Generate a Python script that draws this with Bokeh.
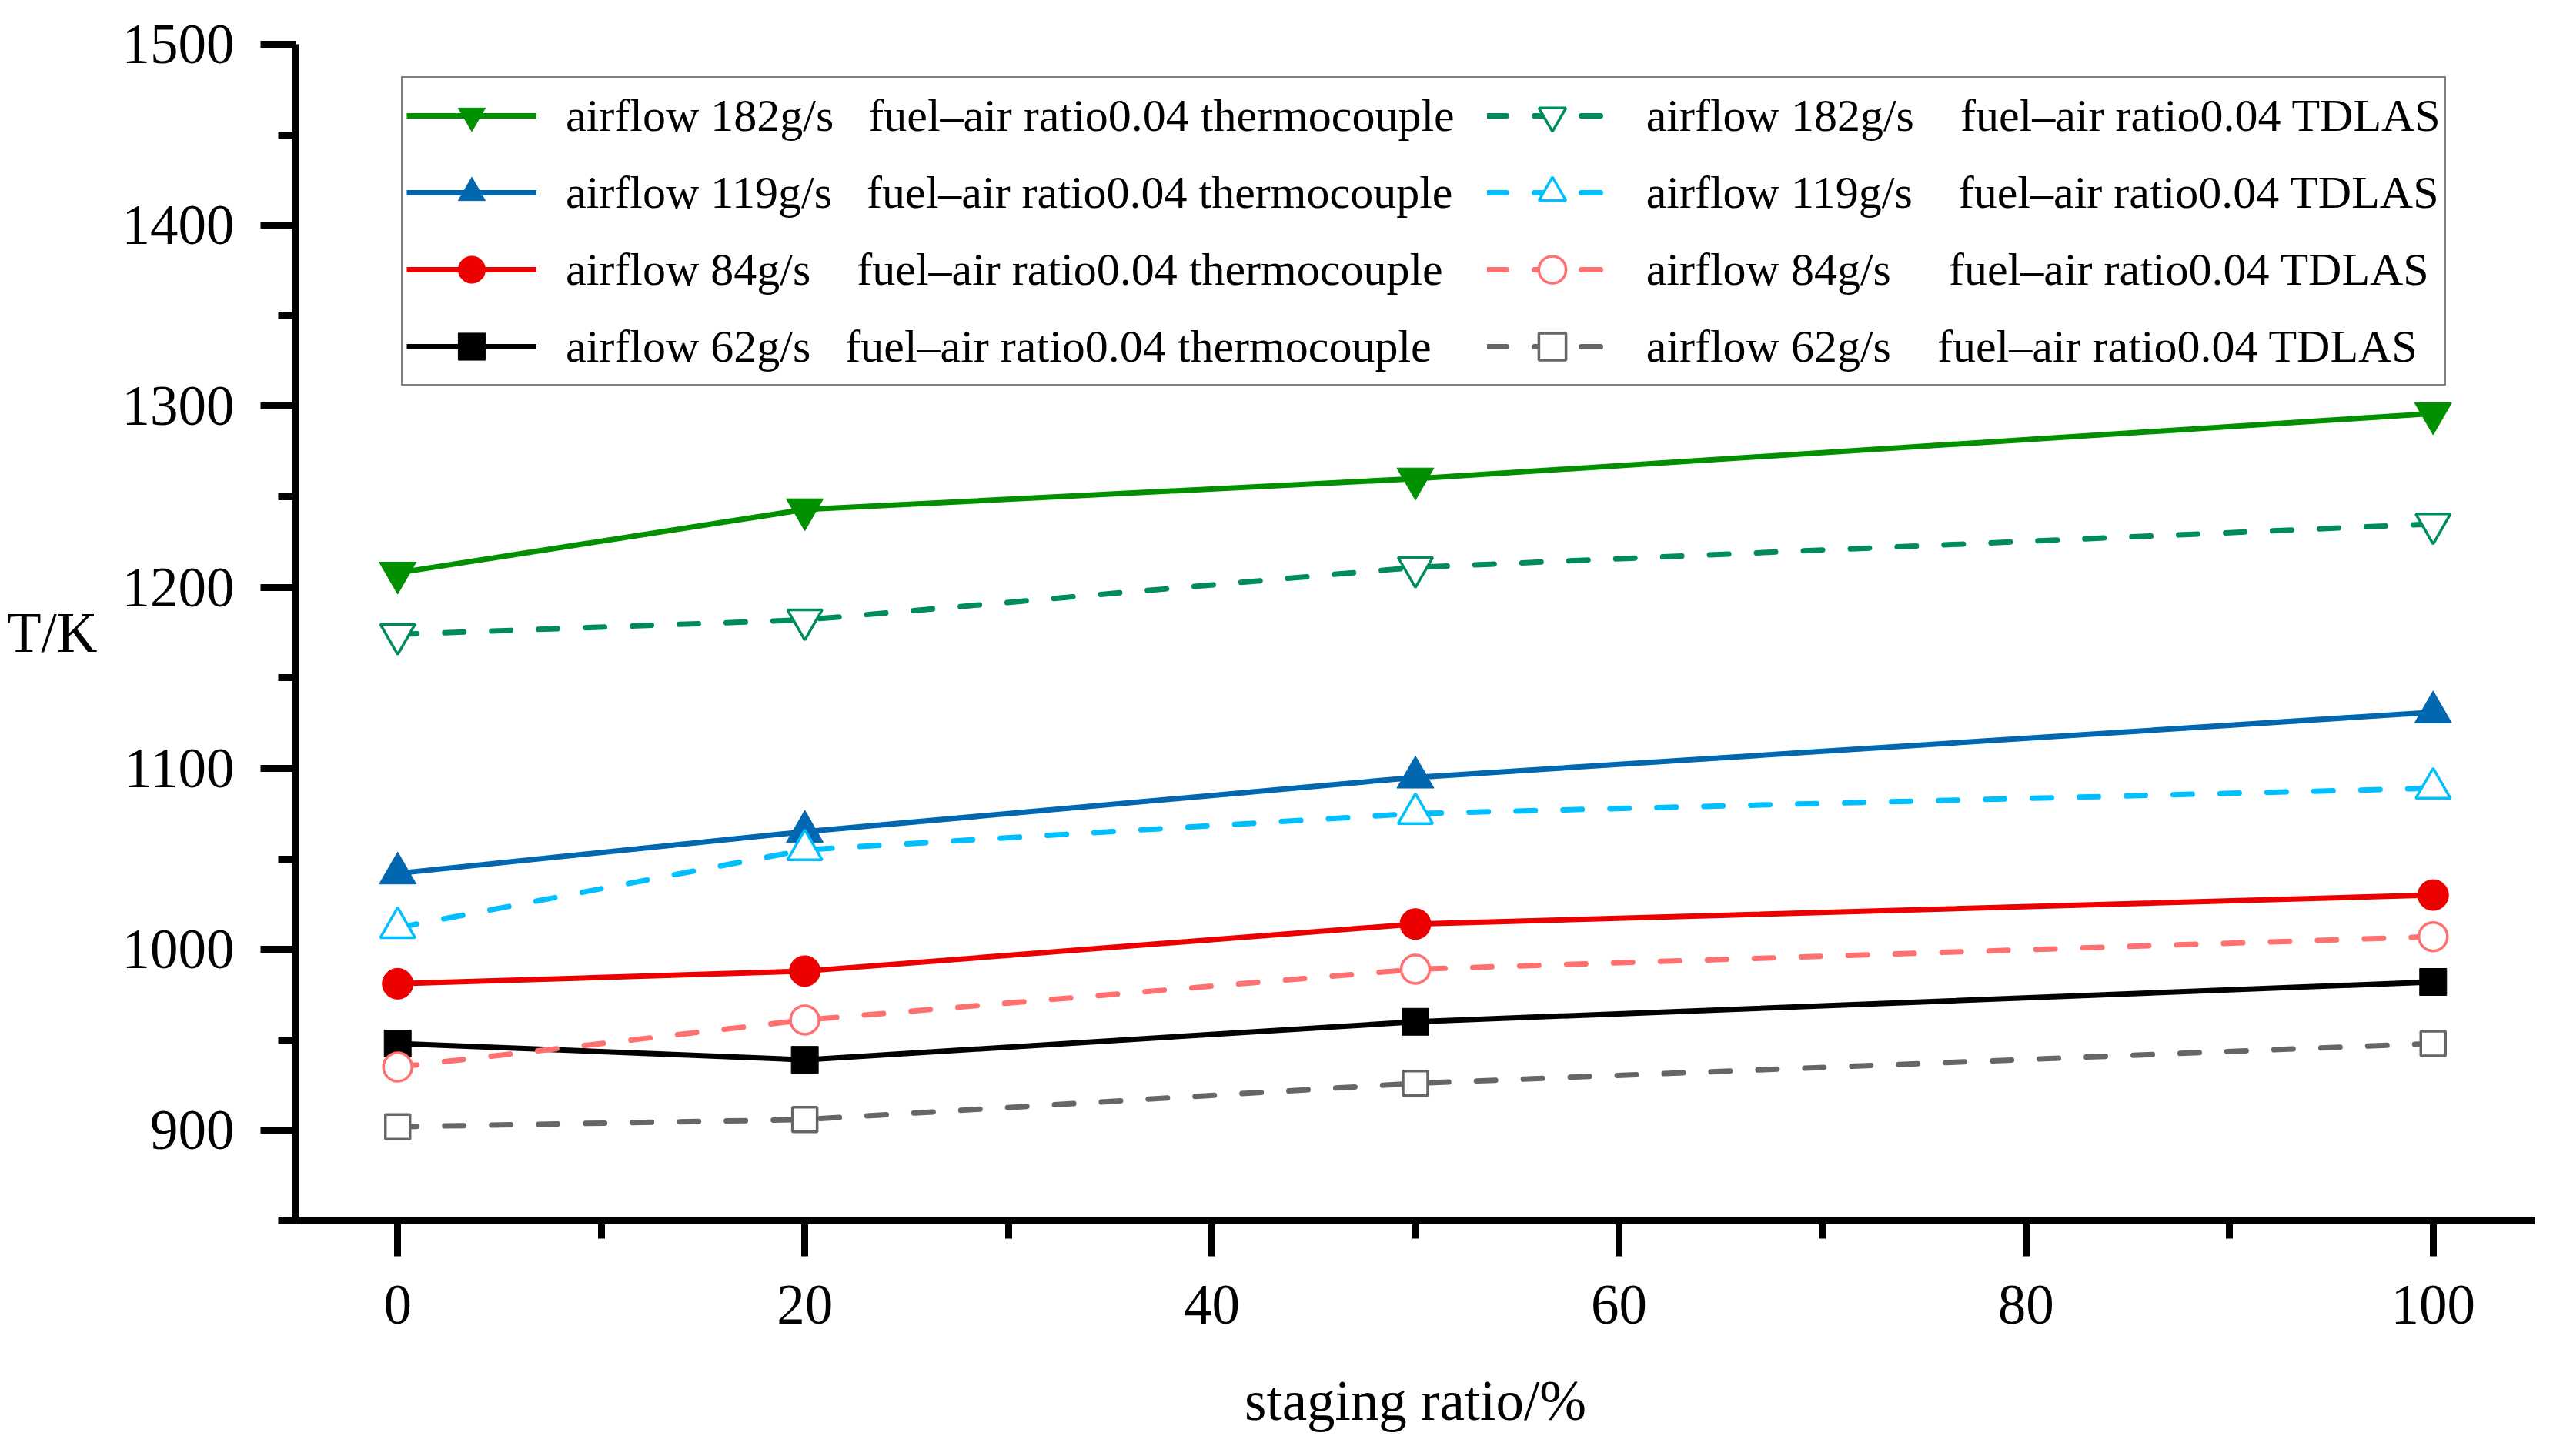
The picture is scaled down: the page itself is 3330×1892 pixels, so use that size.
from bokeh.plotting import figure
from bokeh.models import Range1d, FixedTicker, Legend, LegendItem, Label
from bokeh.embed import file_html
from bokeh.resources import INLINE

# ---------------- data ----------------
staging_ratio = [0, 20, 50, 100]

tc_182 = [1208, 1243, 1260, 1296]
tc_119 = [1042, 1065, 1095, 1131]
tc_84 = [981, 988, 1014, 1030]
tc_62 = [948, 939, 960, 982]

tdlas_182 = [1174, 1182, 1211, 1235]
tdlas_119 = [1012, 1055, 1075, 1089]
tdlas_84 = [935, 961, 989, 1007]
tdlas_62 = [902, 906, 926, 948]

x_major_ticks = [0, 20, 40, 60, 80, 100]
x_minor_ticks = [10, 30, 50, 70, 90]
y_major_ticks = [900, 1000, 1100, 1200, 1300, 1400, 1500]
y_minor_ticks = [850, 950, 1050, 1150, 1250, 1350, 1450]

x_title = "staging ratio/%"
y_title = "T/K"

NB = "\u00a0"
labels_tc = [
    "airflow 182g/s" + NB * 3 + "fuel\u2013air ratio0.04 thermocouple" + NB * 2,
    "airflow 119g/s" + NB * 3 + "fuel\u2013air ratio0.04 thermocouple" + NB * 2,
    "airflow 84g/s" + NB * 4 + "fuel\u2013air ratio0.04 thermocouple" + NB * 2,
    "airflow 62g/s" + NB * 3 + "fuel\u2013air ratio0.04 thermocouple" + NB * 2,
]
labels_tdlas = [
    "airflow 182g/s" + NB * 4 + "fuel\u2013air ratio0.04 TDLAS",
    "airflow 119g/s" + NB * 4 + "fuel\u2013air ratio0.04 TDLAS",
    "airflow 84g/s" + NB * 5 + "fuel\u2013air ratio0.04 TDLAS",
    "airflow 62g/s" + NB * 4 + "fuel\u2013air ratio0.04 TDLAS",
]

FONT = "Liberation Serif"

# ---------------- figure ----------------
p = figure(
    frame_width=2909, frame_height=1529,
    min_border_left=384, min_border_right=21, min_border_top=57, min_border_bottom=290,
    x_range=Range1d(-5, 105), y_range=Range1d(850, 1500),
    output_backend="svg", toolbar_location=None,
)
p.outline_line_color = None
p.xgrid.grid_line_color = None
p.ygrid.grid_line_color = None
p.background_fill_color = "white"
p.border_fill_color = "white"

p.xaxis.ticker = FixedTicker(ticks=x_major_ticks, minor_ticks=x_minor_ticks)
p.yaxis.ticker = FixedTicker(ticks=y_major_ticks, minor_ticks=y_minor_ticks)

for ax in (p.xaxis[0], p.yaxis[0]):
    ax.axis_line_width = 9
    ax.axis_line_color = "black"
    ax.major_tick_line_width = 9
    ax.minor_tick_line_width = 9
    ax.major_tick_line_color = "black"
    ax.minor_tick_line_color = "black"
    ax.major_tick_out = 46
    ax.major_tick_in = 0
    ax.minor_tick_out = 23
    ax.minor_tick_in = 0
    ax.major_label_text_font = FONT
    ax.major_label_text_font_size = "73px"
    ax.major_label_text_color = "black"
    ax.axis_label_text_font = FONT
    ax.axis_label_text_font_size = "73px"
    ax.axis_label_text_font_style = "normal"
    ax.axis_label_text_color = "black"

p.xaxis.major_label_standoff = 38
p.yaxis.major_label_standoff = 34
p.xaxis.axis_label = x_title
p.xaxis.axis_label_standoff = 57

try:
    p.yaxis[0].axis_label_orientation = "horizontal"
    p.yaxis[0].axis_label = y_title
    p.yaxis[0].axis_label_standoff = 29
except Exception:
    p.add_layout(Label(x=-5, y=1175, text=y_title, x_offset=-364, text_align="left",
                       text_baseline="middle", text_font=FONT, text_font_size="73px",
                       text_color="black"))

# ---------------- series ----------------
tc_series = [
    (tc_182, "#009000", "inverted_triangle", 48),
    (tc_119, "#0067B0", "triangle", 48),
    (tc_84, "#EC0000", "circle", 40),
    (tc_62, "#000000", "square", 35),
]
tdlas_series = [
    (tdlas_182, "#008C5A", "inverted_triangle", 45),
    (tdlas_119, "#00BFFF", "triangle", 45),
    (tdlas_84, "#FF7070", "circle", 37),
    (tdlas_62, "#666666", "square", 32),
]

items_tc = []
for (vals, color, marker, size), lab in zip(tc_series, labels_tc):
    l = p.line(staging_ratio, vals, line_color=color, line_width=7)
    s = p.scatter(staging_ratio, vals, marker=marker, size=size,
                  fill_color=color, line_color=color, line_width=1)
    items_tc.append(LegendItem(label=lab, renderers=[l, s]))

items_tdlas = []
for (vals, color, marker, size), lab in zip(tdlas_series, labels_tdlas):
    l = p.line(staging_ratio, vals, line_color=color, line_width=7,
               line_dash="25 36", line_cap="round")
    s = p.scatter(staging_ratio, vals, marker=marker, size=size,
                  fill_color="white", line_color=color, line_width=3.5)
    items_tdlas.append(LegendItem(label=lab, renderers=[l, s]))

legend = Legend(
    items=items_tc + items_tdlas,
    location=(137, 1085), orientation="vertical", ncols=2,
    glyph_width=169, glyph_height=88, label_standoff=38,
    spacing=12, padding=5, margin=0,
    label_text_font=FONT, label_text_font_size="60px", label_text_color="black",
    border_line_color="black", border_line_width=2.5,
    background_fill_color="white", background_fill_alpha=1.0,
)
p.add_layout(legend)

open("out.html", "w").write(file_html(p, INLINE))
